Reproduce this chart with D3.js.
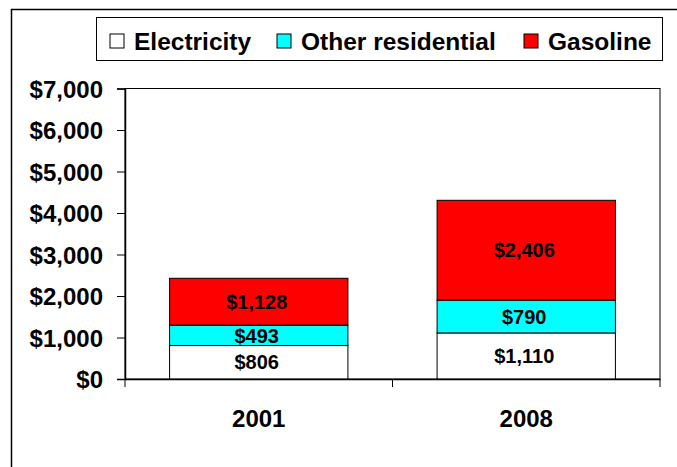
<!DOCTYPE html>
<html>
<head>
<meta charset="utf-8">
<script src="https://cdn.jsdelivr.net/npm/d3@7"></script>
<style>
  body { margin: 0; background: #fff; }
  text { font-family: "Liberation Sans", Arial, sans-serif; font-weight: bold; fill: #000; }
</style>
</head>
<body>
<script>
const years = ["2001", "2008"];
const seriesNames = ["Electricity", "Other residential", "Gasoline"];
const seriesColors = ["#ffffff", "#00ffff", "#ff0000"];
const electricity = [806, 1110];
const otherResidential = [493, 790];
const gasoline = [1128, 2406];
const yTicks = [0, 1000, 2000, 3000, 4000, 5000, 6000, 7000];

const width = 677, height = 467;
const svg = d3.select("body").append("svg")
    .attr("width", width)
    .attr("height", height);

// outer frame
svg.append("rect")
    .attr("x", 11.5).attr("y", 9.5)
    .attr("width", 700).attr("height", 500)
    .attr("fill", "none").attr("stroke", "#000").attr("stroke-width", 1.5);

const plot = { left: 125, right: 660, top: 88.5, bottom: 379 };

const x = d3.scaleBand()
    .domain(years)
    .range([plot.left, plot.right])
    .paddingInner(1 / 3)
    .paddingOuter(1 / 6);

const y = d3.scaleLinear()
    .domain([0, 7000])
    .range([plot.bottom, plot.top]);

// plot area frame
svg.append("rect")
    .attr("x", plot.left).attr("y", plot.top)
    .attr("width", plot.right - plot.left).attr("height", plot.bottom - plot.top)
    .attr("fill", "none").attr("stroke", "#000").attr("stroke-width", 1);

const rows = years.map((yr, i) => ({
    year: yr, Electricity: electricity[i],
    "Other residential": otherResidential[i], Gasoline: gasoline[i]
}));
const stacked = d3.stack().keys(seriesNames)(rows);

const layer = svg.append("g").selectAll("g")
    .data(stacked)
    .join("g")
    .attr("fill", (d, i) => seriesColors[i]);

layer.selectAll("rect")
    .data(d => d)
    .join("rect")
    .attr("x", d => x(d.data.year))
    .attr("y", d => y(d[1]))
    .attr("width", x.bandwidth())
    .attr("height", d => y(d[0]) - y(d[1]))
    .attr("stroke", "#000")
    .attr("stroke-width", 1);

layer.selectAll("text")
    .data(d => d)
    .join("text")
    .attr("x", d => x(d.data.year) + x.bandwidth() / 2 - 2)
    .attr("y", d => (y(d[0]) + y(d[1])) / 2)
    .attr("dy", "0.36em")
    .attr("text-anchor", "middle")
    .style("font-size", "20px")
    .style("fill", "#000")
    .text(d => d3.format("$,")(d[1] - d[0]));

// y axis
const yAxis = svg.append("g")
    .attr("transform", `translate(${plot.left},0)`)
    .call(d3.axisLeft(y).tickValues(yTicks).tickFormat(d3.format("$,")).tickSize(8).tickPadding(14));
yAxis.select(".domain").attr("stroke", "#000").attr("stroke-width", 1.5);
yAxis.selectAll("text")
    .attr("dy", "0.36em")
    .style("font-size", "24px")
    .style("font-family", "Liberation Sans, Arial, sans-serif")
    .style("font-weight", "bold");

// x axis
const xAxis = svg.append("g")
    .attr("transform", `translate(0,${plot.bottom})`)
    .call(d3.axisBottom(x).tickSize(0).tickPadding(31));
xAxis.select(".domain").attr("stroke", "#000").attr("stroke-width", 1.5);
xAxis.selectAll("text")
    .style("font-size", "24px")
    .style("font-family", "Liberation Sans, Arial, sans-serif")
    .style("font-weight", "bold");

// x tick marks between categories
const xBounds = [plot.left, (x("2001") + x.bandwidth() + x("2008")) / 2, plot.right];
svg.append("g").selectAll("line")
    .data(xBounds)
    .join("line")
    .attr("x1", d => d).attr("x2", d => d)
    .attr("y1", plot.bottom).attr("y2", plot.bottom + 8)
    .attr("stroke", "#000").attr("stroke-width", 1);

// legend
const legend = svg.append("g");
legend.append("rect")
    .attr("x", 96.5).attr("y", 17.5)
    .attr("width", 566).attr("height", 43)
    .attr("fill", "#fff").attr("stroke", "#000").attr("stroke-width", 1);
const legendX = [110, 277, 524];
const item = legend.selectAll("g.item")
    .data(seriesNames)
    .join("g")
    .attr("class", "item")
    .attr("transform", (d, i) => `translate(${legendX[i]},34)`);
item.append("rect")
    .attr("width", 14).attr("height", 14)
    .attr("fill", (d, i) => seriesColors[i])
    .attr("stroke", "#000").attr("stroke-width", 1);
item.append("text")
    .attr("x", 24).attr("y", 7)
    .attr("dy", "0.36em")
    .style("font-size", "24.5px")
    .text(d => d);
</script>
</body>
</html>
